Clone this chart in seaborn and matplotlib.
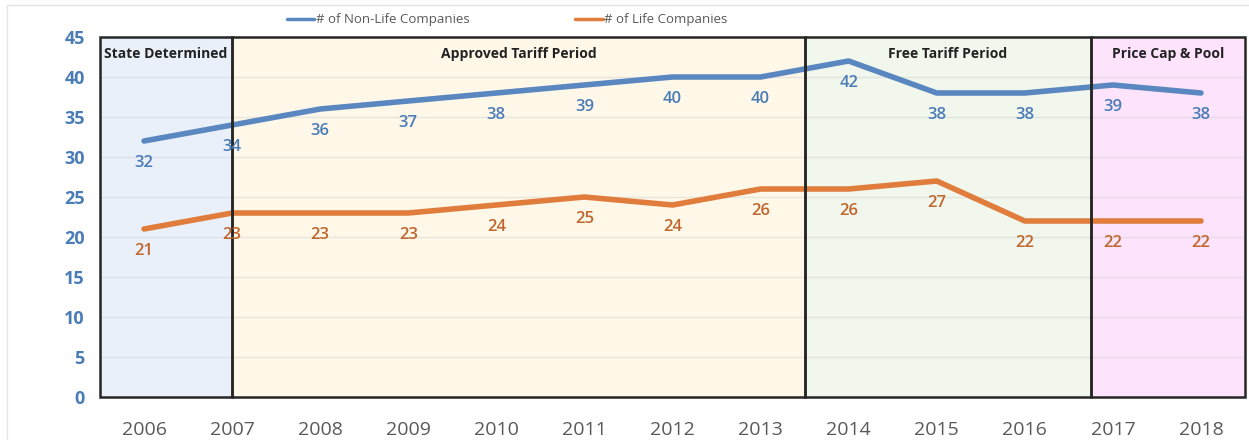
import matplotlib
matplotlib.use("Agg")
import matplotlib.pyplot as plt
from matplotlib.patches import Rectangle
from matplotlib.lines import Line2D
import seaborn as sns
import pandas as pd

years = [2006, 2007, 2008, 2009, 2010, 2011, 2012, 2013, 2014, 2015, 2016, 2017, 2018]
non_life = [32, 34, 36, 37, 38, 39, 40, 40, 42, 38, 38, 39, 38]
life = [21, 23, 23, 23, 24, 25, 24, 26, 26, 27, 22, 22, 22]
series_names = ["# of Non-Life Companies", "# of Life Companies"]

period_names = ["State Determined", "Approved Tariff Period", "Free Tariff Period", "Price Cap & Pool"]
period_bounds = [2005.5, 2007.0, 2013.5, 2016.75, 2018.5]
period_colors = ["#eaf0fa", "#fff8e9", "#f1f7ed", "#fde3fb"]

blue = "#5a87c0"
orange = "#e07d3c"
blue_text = "#4a7cb8"
orange_text = "#c0662c"

df = pd.DataFrame({
    "Year": years * 2,
    "Count": non_life + life,
    "Series": [series_names[0]] * len(years) + [series_names[1]] * len(years),
})

sns.set_theme(style="white")
plt.rcParams["font.family"] = ["Open Sans", "DejaVu Sans"]

fig = plt.figure(figsize=(12.49, 4.40), dpi=100)
ax = fig.add_axes([100 / 1249, 43 / 440, 1145 / 1249, 360 / 440])

# shaded regulatory periods with framed boxes
for i, name in enumerate(period_names):
    x0, x1 = period_bounds[i], period_bounds[i + 1]
    ax.add_patch(Rectangle((x0, 0), x1 - x0, 45, facecolor=period_colors[i],
                           edgecolor="none", zorder=0))
    ax.add_patch(Rectangle((x0, 0), x1 - x0, 45, facecolor="none",
                           edgecolor="#262626", lw=1.8, zorder=4, clip_on=False))
    ax.text((x0 + x1) / 2, 42.9, name, ha="center", va="center", fontsize=10,
            fontweight="bold", color="#222222", zorder=5)

for yv in range(5, 45, 5):
    ax.axhline(yv, color="#d0d0d0", lw=1, alpha=0.45, zorder=1)

sns.lineplot(data=df, x="Year", y="Count", hue="Series",
             palette=[blue, orange], linewidth=4.0, ax=ax, legend=False,
             zorder=3)

for yr, v in zip(years, non_life):
    ax.annotate(str(v), (yr, v), xytext=(0, -16), textcoords="offset points",
                ha="center", va="center", fontsize=12, color=blue_text,
                fontweight="semibold", zorder=6)
for yr, v in zip(years, life):
    ax.annotate(str(v), (yr, v), xytext=(0, -16), textcoords="offset points",
                ha="center", va="center", fontsize=12, color=orange_text,
                fontweight="semibold", zorder=6)

ax.set_xlim(period_bounds[0], period_bounds[-1])
ax.set_ylim(0, 45)
ax.set_xticks(years)
ax.set_xticklabels([str(y) for y in years])
ax.set_yticks(range(0, 50, 5))
ax.tick_params(axis="x", length=0, pad=17, labelsize=14, labelcolor="#595959")
ax.tick_params(axis="y", length=0, pad=11, labelsize=13, labelcolor=blue_text)
for lab in ax.get_yticklabels():
    lab.set_fontweight("bold")
ax.set_xlabel("")
ax.set_ylabel("")
ax.set_facecolor("white")
for s in ax.spines.values():
    s.set_visible(False)

handles = [Line2D([], [], color=blue, lw=2.5), Line2D([], [], color=orange, lw=2.5)]
fig.legend(handles, series_names, loc="center", bbox_to_anchor=(0.406, 0.955),
           ncol=2, frameon=False, fontsize=9.5, labelcolor="#595959",
           handlelength=2.1, handletextpad=0.1, columnspacing=8.0)

# thin outer frame lines
fig.add_artist(Line2D([7 / 1249, 1], [1 - 5 / 440, 1 - 5 / 440],
                      transform=fig.transFigure, color="#e4e4e4", lw=1))
fig.add_artist(Line2D([7 / 1249, 7 / 1249], [0, 1 - 5 / 440],
                      transform=fig.transFigure, color="#e4e4e4", lw=1))

fig.savefig("out.png", dpi=100, facecolor="white")
